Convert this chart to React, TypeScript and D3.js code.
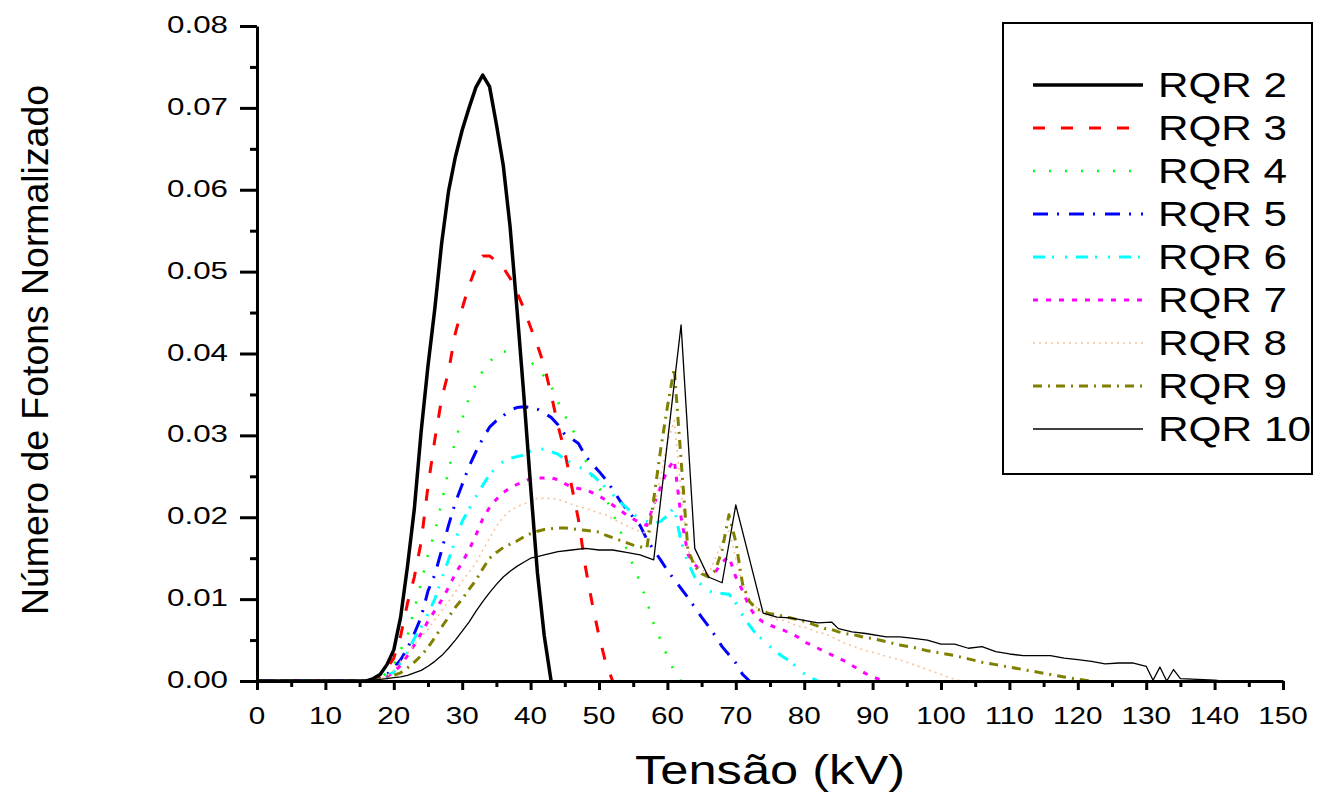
import React, { useEffect, useRef } from 'react'
import * as d3 from 'd3'

// spectra: [kV, normalised photon count]
const rqr2 = [[0, 0], [16, 0], [17, 0.0003], [18, 0.0008], [19, 0.002], [20, 0.0038], [21, 0.0078], [22, 0.014], [23, 0.021], [24, 0.0305], [25, 0.0385], [26, 0.0455], [27, 0.0535], [28, 0.0598], [29, 0.064], [30, 0.0673], [31, 0.07], [32, 0.0725], [33, 0.074], [34, 0.0726], [35, 0.068], [36, 0.063], [37, 0.0555], [38, 0.0455], [39, 0.035], [40, 0.0238], [41, 0.0132], [42, 0.0055], [43, 0]]
const rqr3 = [[0, 0], [16, 0], [17, 0.0002], [18, 0.0005], [19, 0.0015], [20, 0.0028], [21, 0.0055], [22, 0.0095], [23, 0.0127], [24, 0.017], [25, 0.0238], [26, 0.0295], [27, 0.0345], [28, 0.0378], [29, 0.0425], [30, 0.0455], [31, 0.0483], [32, 0.0505], [33, 0.0519], [34, 0.0519], [35, 0.0513], [36, 0.0505], [37, 0.0492], [38, 0.0475], [39, 0.0455], [40, 0.0432], [41, 0.041], [42, 0.0385], [43, 0.035], [44, 0.0312], [45, 0.028], [46, 0.0238], [47, 0.0197], [48, 0.014], [49, 0.0095], [50, 0.0055], [51, 0.0022], [52, 0]]
const rqr4 = [[0, 0], [16, 0], [17, 0.0001], [18, 0.0004], [19, 0.001], [20, 0.002], [21, 0.0038], [22, 0.0055], [23, 0.0088], [24, 0.012], [25, 0.0155], [26, 0.0182], [27, 0.0218], [28, 0.0257], [29, 0.0294], [30, 0.032], [31, 0.0346], [32, 0.0362], [33, 0.0379], [34, 0.039], [35, 0.0398], [36, 0.0402], [37, 0.0404], [38, 0.0402], [39, 0.0397], [40, 0.039], [41, 0.0382], [42, 0.0372], [43, 0.036], [44, 0.0341], [45, 0.0324], [46, 0.031], [47, 0.0292], [48, 0.027], [49, 0.025], [50, 0.0236], [51, 0.0223], [52, 0.0205], [53, 0.0186], [54, 0.0162], [55, 0.0141], [56, 0.0121], [57, 0.0097], [58, 0.007], [59, 0.005], [60, 0.003], [61, 0.0012], [62, 0]]
const rqr5 = [[0, 0], [16, 0], [17, 0.0001], [18, 0.0003], [19, 0.0008], [20, 0.0016], [21, 0.0026], [22, 0.004], [23, 0.0058], [24, 0.0078], [25, 0.011], [26, 0.013], [27, 0.016], [28, 0.019], [29, 0.0218], [30, 0.024], [31, 0.0262], [32, 0.028], [33, 0.0296], [34, 0.031], [35, 0.0318], [36, 0.0324], [37, 0.0331], [38, 0.0334], [39, 0.0335], [40, 0.0334], [41, 0.0332], [42, 0.0327], [43, 0.0322], [44, 0.0313], [45, 0.0301], [46, 0.0296], [47, 0.029], [48, 0.0275], [49, 0.0265], [50, 0.0256], [51, 0.0246], [52, 0.0234], [53, 0.0221], [54, 0.021], [55, 0.02], [56, 0.019], [57, 0.0173], [58, 0.016], [59, 0.0148], [60, 0.0135], [61, 0.0124], [62, 0.0113], [63, 0.0102], [64, 0.009], [65, 0.0078], [66, 0.0067], [67, 0.0055], [68, 0.0042], [69, 0.0032], [70, 0.0022], [71, 0.0008], [72, 0]]
const rqr6 = [[0, 0], [16, 0], [17, 0.0001], [18, 0.0002], [19, 0.0006], [20, 0.0011], [21, 0.0022], [22, 0.0035], [23, 0.0052], [24, 0.0066], [25, 0.0082], [26, 0.01], [27, 0.0125], [28, 0.0148], [29, 0.0172], [30, 0.0195], [31, 0.021], [32, 0.0225], [33, 0.0239], [34, 0.0252], [35, 0.0261], [36, 0.0268], [37, 0.0272], [38, 0.0274], [39, 0.0276], [40, 0.0281], [41, 0.0284], [42, 0.0283], [43, 0.028], [44, 0.0277], [45, 0.0271], [46, 0.0266], [47, 0.0262], [48, 0.0257], [49, 0.0252], [50, 0.0244], [51, 0.0236], [52, 0.0228], [53, 0.0219], [54, 0.0212], [55, 0.0204], [56, 0.0198], [57, 0.0195], [58, 0.0192], [59, 0.0195], [60, 0.0202], [61, 0.0212], [62, 0.017], [63, 0.0145], [64, 0.0127], [65, 0.0117], [66, 0.011], [67, 0.0107], [68, 0.0107], [69, 0.0106], [70, 0.0095], [71, 0.008], [72, 0.0068], [73, 0.0057], [74, 0.005], [75, 0.0042], [76, 0.0035], [77, 0.0029], [78, 0.0024], [79, 0.0016], [80, 0.0009], [81, 0.0004], [82, 0]]
const rqr7 = [[0, 0], [16, 0], [17, 0.0001], [18, 0.0002], [19, 0.0005], [20, 0.0011], [21, 0.0019], [22, 0.0031], [23, 0.0044], [24, 0.0058], [25, 0.0073], [26, 0.0086], [27, 0.0099], [28, 0.0114], [29, 0.0131], [30, 0.0145], [31, 0.016], [32, 0.0178], [33, 0.0198], [34, 0.0212], [35, 0.0222], [36, 0.023], [37, 0.0236], [38, 0.024], [39, 0.0244], [40, 0.0247], [41, 0.0248], [42, 0.0248], [43, 0.0248], [44, 0.0246], [45, 0.0241], [46, 0.0237], [47, 0.0235], [48, 0.0234], [49, 0.023], [50, 0.0226], [51, 0.0221], [52, 0.0215], [53, 0.0209], [54, 0.0203], [55, 0.0198], [56, 0.0193], [57, 0.019], [58, 0.0215], [59, 0.0237], [60, 0.0258], [61, 0.027], [62, 0.02], [63, 0.0155], [64, 0.0142], [65, 0.0135], [66, 0.0128], [67, 0.0133], [68, 0.0145], [69, 0.0152], [70, 0.0127], [71, 0.011], [72, 0.009], [73, 0.0078], [74, 0.0072], [75, 0.0068], [76, 0.0065], [77, 0.0062], [78, 0.0058], [79, 0.0054], [80, 0.0048], [81, 0.0044], [82, 0.004], [83, 0.0036], [84, 0.0032], [85, 0.0028], [86, 0.0024], [87, 0.0019], [88, 0.0014], [89, 0.0009], [90, 0.0005], [91, 0.0002], [92, 0]]
const rqr8 = [[0, 0], [16, 0], [17, 0.0001], [18, 0.0002], [19, 0.0006], [20, 0.0013], [21, 0.0024], [22, 0.0034], [23, 0.0044], [24, 0.0054], [25, 0.0063], [26, 0.0075], [27, 0.0086], [28, 0.0097], [29, 0.0109], [30, 0.0122], [31, 0.0133], [32, 0.0144], [33, 0.016], [34, 0.0174], [35, 0.0189], [36, 0.02], [37, 0.0208], [38, 0.0213], [39, 0.0216], [40, 0.022], [41, 0.0223], [42, 0.0223], [43, 0.0223], [44, 0.0222], [45, 0.0219], [46, 0.0216], [47, 0.0213], [48, 0.0211], [49, 0.0208], [50, 0.0205], [51, 0.0203], [52, 0.0198], [53, 0.0194], [54, 0.019], [55, 0.0186], [56, 0.0183], [57, 0.018], [58, 0.021], [59, 0.025], [60, 0.029], [61, 0.0318], [62, 0.023], [63, 0.016], [64, 0.0145], [65, 0.0136], [66, 0.013], [67, 0.015], [68, 0.017], [69, 0.0184], [70, 0.015], [71, 0.0118], [72, 0.01], [73, 0.009], [74, 0.0083], [75, 0.0078], [76, 0.0075], [77, 0.0074], [78, 0.0071], [79, 0.0067], [80, 0.0066], [81, 0.0063], [82, 0.0059], [83, 0.0058], [84, 0.0054], [85, 0.005], [86, 0.0046], [87, 0.0043], [88, 0.004], [89, 0.0037], [90, 0.0035], [91, 0.0033], [92, 0.003], [93, 0.0028], [94, 0.0026], [95, 0.0023], [96, 0.002], [97, 0.0017], [98, 0.0014], [99, 0.0011], [100, 0.0008], [101, 0.0005], [102, 0.0002], [103, 0]]
const rqr9 = [[0, 0], [16, 0], [17, 0.0001], [18, 0.0002], [19, 0.0004], [20, 0.0007], [21, 0.001], [22, 0.0016], [23, 0.0023], [24, 0.0031], [25, 0.0041], [26, 0.0053], [27, 0.0066], [28, 0.0078], [29, 0.009], [30, 0.01], [31, 0.0112], [32, 0.0123], [33, 0.0137], [34, 0.015], [35, 0.0157], [36, 0.0163], [37, 0.0167], [38, 0.0171], [39, 0.0176], [40, 0.018], [41, 0.0183], [42, 0.0185], [43, 0.0186], [44, 0.0187], [45, 0.0187], [46, 0.0186], [47, 0.0185], [48, 0.0184], [49, 0.0183], [50, 0.0182], [51, 0.0178], [52, 0.0175], [53, 0.0172], [54, 0.0169], [55, 0.0166], [56, 0.0164], [57, 0.0162], [58, 0.0222], [59, 0.0282], [60, 0.0335], [61, 0.0382], [62, 0.027], [63, 0.016], [64, 0.014], [65, 0.0131], [66, 0.0127], [67, 0.0135], [68, 0.016], [69, 0.0203], [70, 0.017], [71, 0.0118], [72, 0.0097], [73, 0.0088], [74, 0.0085], [75, 0.0082], [76, 0.0081], [77, 0.0079], [78, 0.0077], [79, 0.0075], [80, 0.0073], [81, 0.007], [82, 0.0067], [83, 0.0064], [84, 0.0063], [85, 0.006], [86, 0.0058], [87, 0.0057], [88, 0.0055], [89, 0.0053], [90, 0.0052], [92, 0.0048], [94, 0.0044], [96, 0.0041], [98, 0.0037], [100, 0.0034], [102, 0.0031], [104, 0.0027], [106, 0.0023], [108, 0.002], [110, 0.0017], [112, 0.0014], [114, 0.0011], [116, 0.0008], [118, 0.0005], [120, 0.0002], [122, 0]]
const rqr10 = [[0, 0], [16, 0], [17, 0.0001], [18, 0.0002], [19, 0.0003], [20, 0.0004], [21, 0.0005], [22, 0.0007], [23, 0.001], [24, 0.0013], [25, 0.0018], [26, 0.0024], [27, 0.0031], [28, 0.004], [29, 0.005], [30, 0.0061], [31, 0.0072], [32, 0.0085], [33, 0.0097], [34, 0.0108], [35, 0.0118], [36, 0.0127], [37, 0.0134], [38, 0.014], [39, 0.0145], [40, 0.015], [41, 0.0152], [42, 0.0154], [44, 0.0158], [46, 0.016], [48, 0.0162], [50, 0.016], [52, 0.016], [54, 0.0157], [56, 0.0154], [58, 0.0148], [62, 0.0435], [64, 0.0162], [66, 0.0127], [68, 0.012], [70, 0.0215], [74, 0.0083], [76, 0.0078], [78, 0.0077], [80, 0.0074], [82, 0.0071], [84, 0.0072], [85, 0.0064], [87, 0.006], [89, 0.0058], [92, 0.0054], [94, 0.0054], [96, 0.0052], [98, 0.005], [100, 0.0045], [102, 0.0045], [104, 0.004], [106, 0.0042], [108, 0.0036], [110, 0.0033], [112, 0.0031], [116, 0.0031], [118, 0.0028], [120, 0.0026], [122, 0.0024], [124, 0.0021], [126, 0.0022], [128, 0.0022], [130, 0.0018], [131, 0.0001], [132, 0.0017], [133, 0], [134, 0.0014], [135, 0.0003], [140, 0.0001], [141, 0]]

const seriesNames = ['RQR 2', 'RQR 3', 'RQR 4', 'RQR 5', 'RQR 6', 'RQR 7', 'RQR 8', 'RQR 9', 'RQR 10']
const seriesData = [rqr2, rqr3, rqr4, rqr5, rqr6, rqr7, rqr8, rqr9, rqr10]
const seriesColors = ['#000000', '#FF0000', '#00FF00', '#0000FF', '#00FFFF', '#FF00FF', '#F7C39B', '#808000', '#000000']
const seriesWidths = [3.5, 3, 2.5, 3, 3, 3, 1.6, 3, 1.3]
const seriesDashes = [null, '12,16', '2,14', '15,9,2,10', '12,7,2,11,2,9', '5,8', '2,4', '9,6,2,6', null]

const xTicks = d3.range(0, 151, 10)
const xMinor = d3.range(5, 150, 10)
const yTicks = d3.range(0, 0.081, 0.01)
const yMinor = d3.range(0.005, 0.08, 0.01)

const W = 1322
const H = 793
const FONT = '"Liberation Sans", Arial, sans-serif'

const App = () => {
  const svgRef = useRef(null)

  useEffect(() => {
    const svg = d3.select(svgRef.current)
    svg.selectAll('*').remove()

    const x = d3.scaleLinear().domain([0, 150]).range([257, 1283])
    const y = d3.scaleLinear().domain([0, 0.08]).range([681, 26])

    // curves (RQR 2 last so it sits on top)
    const line = d3.line().x(d => x(d[0])).y(d => y(d[1]))
    const order = [1, 2, 3, 4, 5, 6, 7, 8, 0]
    order.forEach(i => {
      svg.append('path')
        .attr('d', line(seriesData[i]))
        .style('fill', 'none')
        .style('stroke', seriesColors[i])
        .style('stroke-width', seriesWidths[i])
        .style('stroke-dasharray', seriesDashes[i] || 'none')
        .style('stroke-linejoin', 'round')
    })

    // x axis
    const gx = svg.append('g').attr('transform', `translate(0, ${y(0)})`)
    gx.call(d3.axisBottom(x).tickValues(xTicks).tickSize(9).tickSizeOuter(0).tickFormat(() => ''))
    gx.append('g').call(d3.axisBottom(x).tickValues(xMinor).tickSize(6).tickSizeOuter(0).tickFormat(() => ''))
      .select('.domain').remove()
    gx.selectAll('line').style('stroke', '#000').style('stroke-width', 3)
    gx.select('.domain').style('stroke', '#000').style('stroke-width', 3)

    gx.selectAll('.xlab')
      .data(xTicks)
      .enter()
      .append('text')
      .attr('x', d => x(d))
      .attr('y', 43)
      .attr('text-anchor', 'middle')
      .attr('textLength', d => String(d).length * 16.5)
      .attr('lengthAdjust', 'spacingAndGlyphs')
      .style('font', `24px ${FONT}`)
      .style('fill', '#000')
      .text(d => d)

    // y axis
    const gy = svg.append('g').attr('transform', `translate(${x(0)}, 0)`)
    gy.call(d3.axisLeft(y).tickValues(yTicks).tickSize(17).tickSizeOuter(0).tickFormat(() => ''))
    gy.append('g').call(d3.axisLeft(y).tickValues(yMinor).tickSize(7).tickSizeOuter(0).tickFormat(() => ''))
      .select('.domain').remove()
    gy.selectAll('line').style('stroke', '#000').style('stroke-width', 3)
    gy.select('.domain').style('stroke', '#000').style('stroke-width', 3)

    gy.selectAll('.ylab')
      .data(yTicks)
      .enter()
      .append('text')
      .attr('x', -29)
      .attr('y', d => y(d) + 7)
      .attr('text-anchor', 'end')
      .attr('textLength', 61)
      .attr('lengthAdjust', 'spacingAndGlyphs')
      .style('font', `23.5px ${FONT}`)
      .style('fill', '#000')
      .text(d => d3.format('.2f')(d))

    // axis titles
    svg.append('text')
      .attr('x', 770)
      .attr('y', 784)
      .attr('text-anchor', 'middle')
      .attr('textLength', 270)
      .attr('lengthAdjust', 'spacingAndGlyphs')
      .style('font', `40px ${FONT}`)
      .text('Tensão (kV)')

    svg.append('text')
      .attr('transform', 'translate(48, 350) rotate(-90)')
      .attr('text-anchor', 'middle')
      .attr('textLength', 530)
      .attr('lengthAdjust', 'spacingAndGlyphs')
      .style('font', `37px ${FONT}`)
      .text('Número de Fotons Normalizado')

    // legend
    const legend = svg.append('g')
    legend.append('rect')
      .attr('x', 1003)
      .attr('y', 23)
      .attr('width', 309)
      .attr('height', 451)
      .style('fill', 'white')
      .style('stroke', '#000')
      .style('stroke-width', 2)

    seriesNames.forEach((name, i) => {
      const ly = 85 + i * 43
      legend.append('line')
        .attr('x1', 1033)
        .attr('x2', 1143)
        .attr('y1', ly)
        .attr('y2', ly)
        .style('stroke', seriesColors[i])
        .style('stroke-width', seriesWidths[i])
        .style('stroke-dasharray', seriesDashes[i] || 'none')
      legend.append('text')
        .attr('x', 1158)
        .attr('y', ly + 12)
        .attr('textLength', name.length > 5 ? 153 : 129)
        .attr('lengthAdjust', 'spacingAndGlyphs')
        .style('font', `35px ${FONT}`)
        .text(name)
    })
  }, [])

  return (
    <svg
      ref={svgRef}
      width={W}
      height={H}
      style={{ position: 'absolute', left: 0, top: 0, background: 'white' }}
    ></svg>
  )
}

export default App
